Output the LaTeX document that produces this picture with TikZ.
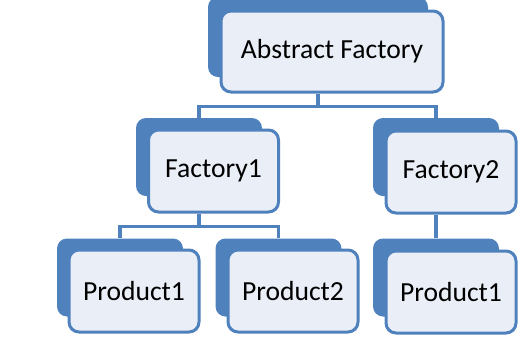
\documentclass[tikz,border=0pt]{standalone}
\usepackage{fontspec}
\setmainfont{Carlito}
\usepackage{xcolor}
\usepackage{tikz}
\usetikzlibrary{positioning, calc, backgrounds}
\definecolor{officeblue}{RGB}{79,129,189}
\definecolor{panelfill}{RGB}{234,239,247}
\tikzset{
  backcard/.style={
    rectangle, rounded corners=5pt, fill=officeblue, draw=none,
    minimum width=63pt, minimum height=39pt, inner sep=0pt
  },
  frontcard/.style={
    rectangle, rounded corners=5pt, fill=panelfill, draw=officeblue,
    line width=1.5pt, minimum width=65pt, minimum height=41pt,
    inner sep=0pt, font=\fontsize{13.8}{16}\selectfont, text=black
  },
  treelink/.style={
    draw=officeblue, line width=1.8pt
  },
}

\begin{document}
\begin{tikzpicture}[x=0.5pt, y=-0.5pt]
  \useasboundingbox (0,0) rectangle (521,339);

  % Front cards
  \node[frontcard, minimum width=111pt, minimum height=40.5pt] (abs) at (332,51.5) {Abstract Factory};
  \node[frontcard] (fac1) at (213.5,171) {Factory1};
  \node[frontcard] (fac2) at (451,172) {Factory2};
  \node[frontcard] (prA1) at (134,291) {Product1};
  \node[frontcard] (prA2) at (293,291) {Product2};
  \node[frontcard] (prB1) at (451,292) {Product1};

  \begin{scope}[on background layer]
    % Back cards
    \node[backcard, minimum width=110pt, minimum height=40pt] (absB) at (318,37) {};
    \node[backcard] (fac1B) at (199,157) {};
    \node[backcard] (fac2B) at (436,157) {};
    \node[backcard] (prA1B) at (120,277.5) {};
    \node[backcard] (prA2B) at (278.5,277.5) {};
    \node[backcard] (prB1B) at (436,277.5) {};

    % Connectors
    \draw[treelink] (absB |- abs.south) -- ++(0,13) -| (fac1B.north);
    \draw[treelink] (absB |- abs.south) -- ++(0,13) -| (fac2B.north);
    \draw[treelink] (fac1B |- fac1.south) -- ++(0,13) -| (prA1B.north);
    \draw[treelink] (fac1B |- fac1.south) -- ++(0,13) -| (prA2B.north);
    \draw[treelink] (fac2B |- fac2.south) -- (prB1B.north);
  \end{scope}
\end{tikzpicture}
\end{document}
